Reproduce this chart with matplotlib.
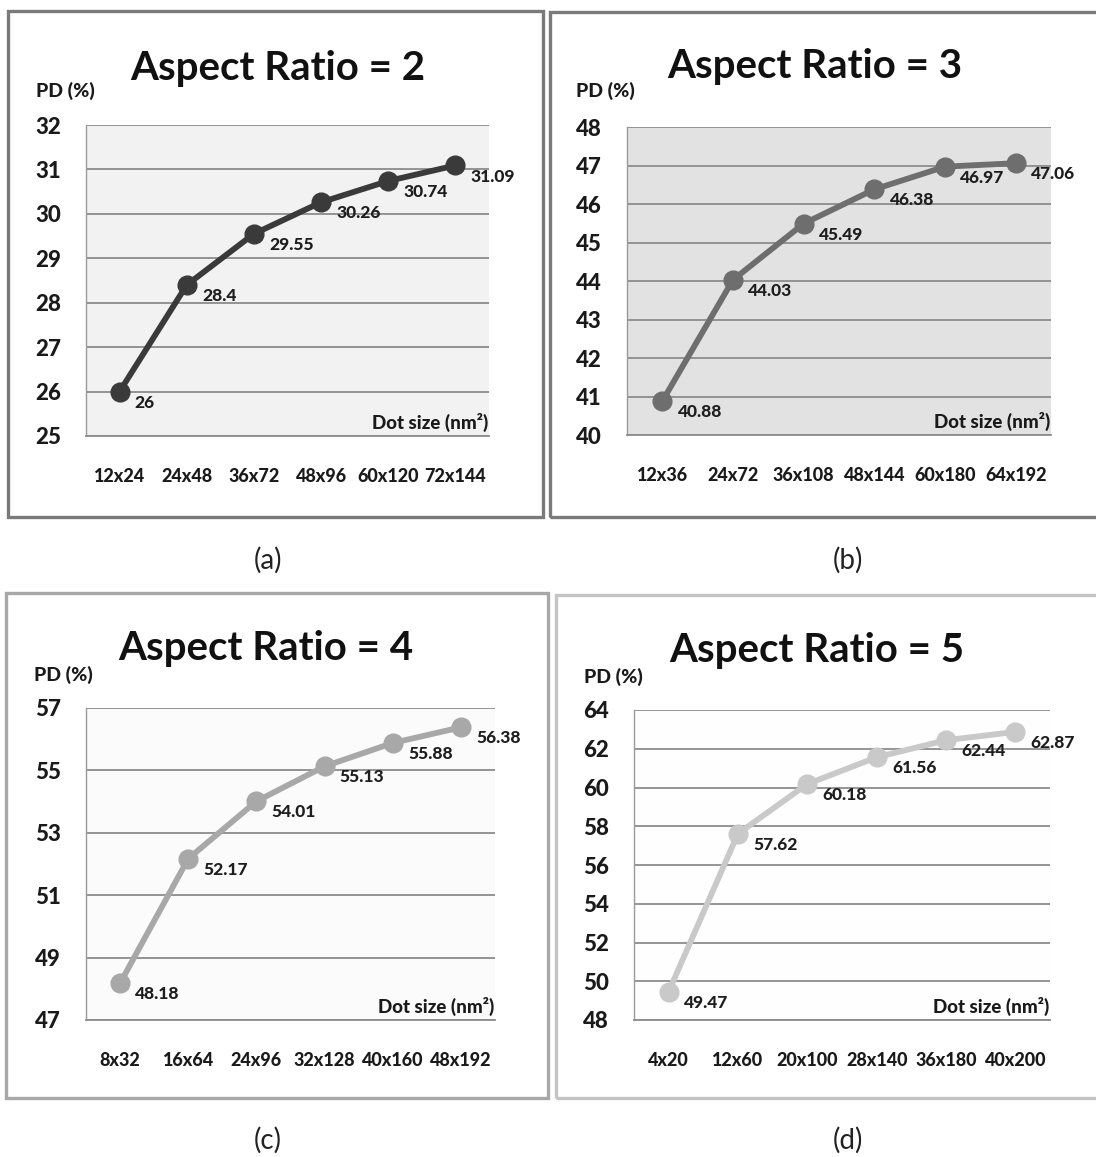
import matplotlib
matplotlib.use("Agg")
import matplotlib.pyplot as plt
from matplotlib.patches import Rectangle
from matplotlib import font_manager

W, H = 1096, 1157
plt.rcParams['font.family'] = ['Lato', 'DejaVu Sans']

# pick the heaviest Lato weight available for small labels
_lato_weights = sorted({f.weight for f in font_manager.fontManager.ttflist if f.name == 'Lato'
                        and isinstance(f.weight, int)})
SMALL_W = 900 if any(w >= 800 for w in _lato_weights) else "bold"

# ---- data ----
titles = ["Aspect Ratio = 2", "Aspect Ratio = 3", "Aspect Ratio = 4", "Aspect Ratio = 5"]
captions = ["(a)", "(b)", "(c)", "(d)"]
cats_a = ["12x24", "24x48", "36x72", "48x96", "60x120", "72x144"]
vals_a = [26, 28.4, 29.55, 30.26, 30.74, 31.09]
cats_b = ["12x36", "24x72", "36x108", "48x144", "60x180", "64x192"]
vals_b = [40.88, 44.03, 45.49, 46.38, 46.97, 47.06]
cats_c = ["8x32", "16x64", "24x96", "32x128", "40x160", "48x192"]
vals_c = [48.18, 52.17, 54.01, 55.13, 55.88, 56.38]
cats_d = ["4x20", "12x60", "20x100", "28x140", "36x180", "40x200"]
vals_d = [49.47, 57.62, 60.18, 61.56, 62.44, 62.87]
yticks_a = [25, 26, 27, 28, 29, 30, 31, 32]
yticks_b = [40, 41, 42, 43, 44, 45, 46, 47, 48]
yticks_c = [47, 49, 51, 53, 55, 57]
yticks_d = [48, 50, 52, 54, 56, 58, 60, 62, 64]
ylabel = "PD (%)"
xlabel = "Dot size (nm²)"

cats = [cats_a, cats_b, cats_c, cats_d]
vals = [vals_a, vals_b, vals_c, vals_d]
yticks = [yticks_a, yticks_b, yticks_c, yticks_d]

# ---- layout (pixels) ----
axes_px = [(86, 125, 489, 436), (627, 127, 1051, 435), (86, 708, 495, 1020), (634, 710, 1050, 1020)]
box_px = [(8, 11, 543, 517), (550, 12, 1100, 517), (6, 593, 548, 1098), (556, 595, 1100, 1098)]
box_col = ["#7a7a7a", "#7a7a7a", "#a8a8a8", "#c4c4c4"]
line_col = ["#3a3a3a", "#6e6e6e", "#a8a8a8", "#c9c9c9"]
bg_col = ["#f2f2f2", "#e2e2e2", "#fbfbfb", "#fefefe"]
title_pos = [(278, 80), (815, 78), (266, 660), (817, 662)]
pd_pos = [(36, 97), (576, 97), (34, 681), (584, 683)]
cap_pos = [(268, 560), (848, 560), (268, 1140), (848, 1140)]

fig = plt.figure(figsize=(W / 100, H / 100), dpi=100)
fig.patch.set_facecolor("white")

def fx(x):
    return x / W

def fy(y):
    return 1 - y / H

for i in range(4):
    bx0, by0, bx1, by1 = box_px[i]
    fig.patches.append(Rectangle((fx(bx0), fy(by1)), fx(bx1 - bx0), (by1 - by0) / H,
                                 transform=fig.transFigure, fill=False,
                                 edgecolor=box_col[i], linewidth=2.4, zorder=0))
    x0, y0, x1, y1 = axes_px[i]
    ax = fig.add_axes([fx(x0), fy(y1), fx(x1 - x0), (y1 - y0) / H])
    ax.set_facecolor(bg_col[i])
    xs = list(range(len(cats[i])))
    ax.plot(xs, vals[i], color=line_col[i], linewidth=4.2, marker="o",
            markersize=13.5, markerfacecolor=line_col[i], markeredgecolor=line_col[i],
            zorder=3, clip_on=False)
    for xv, v in zip(xs, vals[i]):
        ax.annotate(f"{v:g}", (xv, v), xytext=(11, -8), textcoords="offset points",
                    ha="left", va="center", fontsize=12.5, fontweight=SMALL_W,
                    color="#1e1e1e", zorder=4, annotation_clip=False)
    ax.set_xlim(-0.5, len(xs) - 0.5)
    ax.set_ylim(yticks[i][0], yticks[i][-1])
    ax.set_yticks(yticks[i])
    ax.set_xticks(xs)
    ax.set_xticklabels(cats[i])
    ax.grid(axis="y", color="#8c8c8c", linewidth=1.3)
    ax.set_axisbelow(True)
    ax.tick_params(axis="y", length=0, pad=18, labelsize=16, labelcolor="#1a1a1a")
    ax.tick_params(axis="x", length=0, pad=23, labelsize=13, labelcolor="#1a1a1a")
    for lab in ax.get_yticklabels() + ax.get_xticklabels():
        lab.set_fontweight(SMALL_W)
    for s in ["top", "right"]:
        ax.spines[s].set_visible(False)
    ax.spines["left"].set_color("#9a9a9a")
    ax.spines["left"].set_linewidth(1.0)
    ax.spines["bottom"].set_color("#8c8c8c")
    ax.spines["bottom"].set_linewidth(1.3)
    ax.text(0.998, 0.045, xlabel, transform=ax.transAxes, ha="right", va="center",
            fontsize=13.5, fontweight=SMALL_W, color="#1a1a1a")
    tx, ty = title_pos[i]
    fig.text(fx(tx), fy(ty), titles[i], ha="center", va="baseline",
             fontsize=29, fontweight="bold", color="#111111")
    px, py = pd_pos[i]
    fig.text(fx(px), fy(py), ylabel, ha="left", va="baseline",
             fontsize=14, fontweight=SMALL_W, color="#1a1a1a")
    cx, cy = cap_pos[i]
    fig.text(fx(cx), fy(cy), captions[i], ha="center", va="center",
             fontsize=20, color="#222222")

fig.savefig("out.png", dpi=100)
